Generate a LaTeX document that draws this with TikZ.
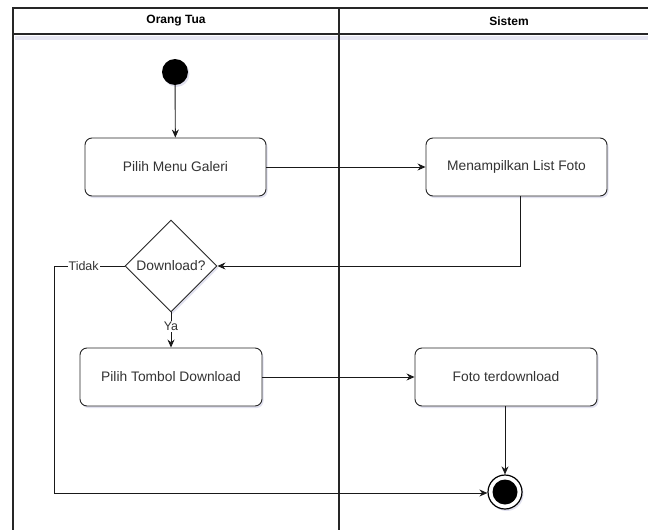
\documentclass[tikz,border=0pt]{standalone}
\usepackage{fontspec}
\setmainfont{Liberation Sans}
\usetikzlibrary{shapes.geometric,arrows.meta,shadows}
\begin{document}
\begin{tikzpicture}[x=1pt,y=-1pt,
  shad/.style={drop shadow={opacity=0.18,shadow xshift=1.5pt,shadow yshift=-2pt,fill=blue!30!gray}},
  act/.style={draw=black!85,line width=0.9pt,rounded corners=7pt,fill=white,minimum height=58pt,inner sep=0pt,font=\fontsize{13.8}{16}\selectfont\color{black!80},shad},
  dec/.style={diamond,draw=black!85,line width=0.9pt,fill=white,minimum width=92pt,minimum height=92pt,inner sep=0pt,font=\fontsize{13.8}{16}\selectfont\color{black!80},shad},
  flow/.style={draw=black!90,line width=0.9pt,-{Stealth[length=8pt,width=7pt]}},
  lbl/.style={fill=white,inner sep=1pt,font=\fontsize{12.5}{14}\selectfont\color{black!80}},
  lane/.style={draw=black!85,line width=1.2pt},
  hdr/.style={font=\bfseries\fontsize{12}{14}\selectfont}
]
\useasboundingbox (0,0) rectangle (648,530);
% swimlanes
\fill[blue!30!gray,opacity=0.15] (15,36) rectangle (650,40);
\draw[lane] (13,540) -- (13,8) -- (650,8);
\draw[lane] (13,34) -- (650,34);
\draw[lane] (339,8) -- (339,540);
\node[hdr] (h1) at (176,21) {Orang Tua};
\node[hdr] (h2) at (509,21) {Sistem};
% nodes
\node[circle,fill=black,minimum size=26pt,inner sep=0pt,shad] (start) at (175,72) {};
\node[act,minimum width=181pt] (a1) at (175.5,167) {Pilih Menu Galeri};
\node[act,minimum width=181pt] (a2) at (516.5,167) {Menampilkan List Foto};
\node[dec] (d) at (171,266) {Download?};
\node[act,minimum width=182pt] (a3) at (171,377) {Pilih Tombol Download};
\node[act,minimum width=182pt] (a4) at (506,377) {Foto terdownload};
\node[circle,draw=black,line width=1.2pt,fill=white,minimum size=34pt,inner sep=0pt,shad] (end) at (505,492) {};
\node[circle,fill=black,minimum size=25pt,inner sep=0pt] (endin) at (end.center) {};
\coordinate (c1) at (54,266);
\coordinate (c2) at (54,493);
% edges
\draw[flow] (start) -- (a1);
\draw[flow] (a1) -- (a2);
\draw[flow] (a2.south -| 520,0) |- (d.east);
\draw[flow] (d.west) -- node[lbl,pos=0.58] (t) {Tidak} (c1) -- (c2) -- (end.west |- c2);
\draw[flow] (d.south) -- node[lbl,pos=0.4] (ya) {Ya} (a3.north);
\draw[flow] (a3) -- (a4);
\draw[flow] (a4.south -| end.north) -- (end.north);
\end{tikzpicture}
\end{document}
